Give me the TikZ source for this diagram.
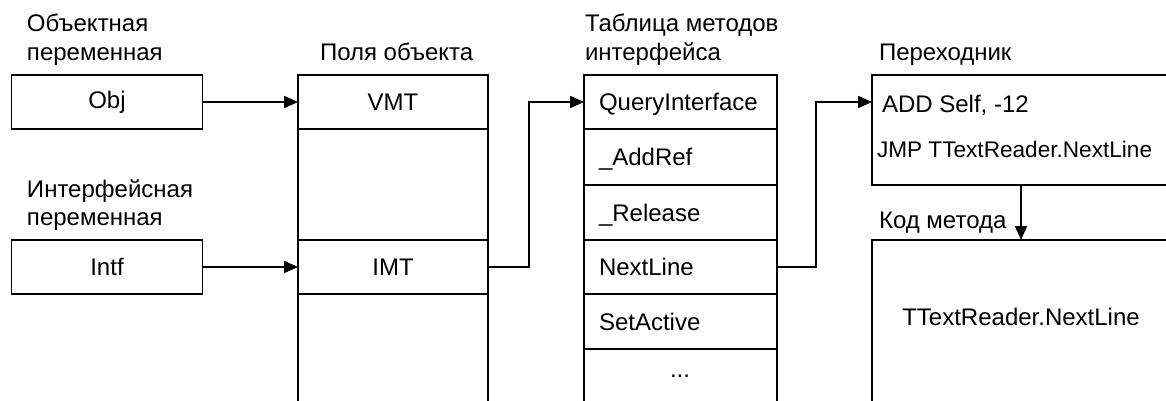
\documentclass[tikz,border=0pt]{standalone}
\usepackage{fontspec}
\setmainfont{Liberation Sans}
\usetikzlibrary{arrows.meta}
\begin{document}
\begin{tikzpicture}[x=1pt,y=-1pt,
  cell/.style={draw=black,line width=1.9pt,rectangle,inner sep=0pt,outer sep=0pt},
  txt/.style={inner sep=0pt,outer sep=0pt,font=\fontsize{24}{28}\selectfont,text=black},
  lbl/.style={txt,anchor=base west},
  arr/.style={line width=1.9pt,-{Triangle[length=14pt,width=12pt]}}]
\useasboundingbox (0,0) rectangle (1166,401);
\clip (0,0) rectangle (1166,401);
\fill[white] (0,0) rectangle (1166,401);
% labels
\node[lbl] (l1a) at (27,32) {Объектная};
\node[lbl] (l1b) at (27,61) {переменная};
\node[lbl] (l2a) at (27,197) {Интерфейсная};
\node[lbl] (l2b) at (27,225) {переменная};
\node[lbl] (l3) at (320,61) {Поля объекта};
\node[lbl] (l4a) at (585,32) {Таблица методов};
\node[lbl] (l4b) at (585,61) {интерфейса};
\node[lbl] (l5) at (879,61) {Переходник};
\node[lbl] (l6) at (879,228) {Код метода};
% variable boxes
\node[cell,minimum width=191pt,minimum height=54pt] (obj) at (107,102) {};
\node[txt] (objt) at (obj) {Obj};
\node[cell,minimum width=191pt,minimum height=54pt] (intf) at (107,267) {};
\node[txt] (intft) at (intf) {Intf};
% object fields
\node[cell,minimum width=190pt,minimum height=54pt] (vmt) at (393,102) {};
\node[txt] (vmtt) at (vmt) {VMT};
\node[cell,minimum width=190pt,minimum height=111pt] (fgap) at (393,184.5) {};
\node[cell,minimum width=190pt,minimum height=54pt] (imt) at (393,267) {};
\node[txt] (imtt) at (imt) {IMT};
\node[cell,minimum width=190pt,minimum height=140pt] (frest) at (393,364) {};
% interface method table
\node[cell,minimum width=193pt,minimum height=54pt] (qi) at (680.5,102) {};
\node[cell,minimum width=193pt,minimum height=56pt] (ar) at (680.5,157) {};
\node[cell,minimum width=193pt,minimum height=55pt] (rel) at (680.5,212.5) {};
\node[cell,minimum width=193pt,minimum height=54pt] (nl) at (680.5,267) {};
\node[cell,minimum width=193pt,minimum height=55pt] (sa) at (680.5,321.5) {};
\node[cell,minimum width=193pt,minimum height=80pt] (more) at (680.5,389) {};
\node[lbl] (qit) at (599,110.5) {QueryInterface};
\node[lbl] (art) at (599,165.5) {\_AddRef};
\node[lbl] (relt) at (599,221) {\_Release};
\node[lbl] (nlt) at (599,275.5) {NextLine};
\node[lbl] (sat) at (599,330) {SetActive};
\node[txt,anchor=base] (moret) at (680,377) {...};
% thunk and method code
\node[cell,minimum width=400pt,minimum height=110pt] (thunk) at (1072,130) {};
\node[lbl] (addt) at (882,113) {ADD Self, -12};
\node[lbl,font=\fontsize{22.6}{27}\selectfont] (jmpt) at (877,157) {JMP TTextReader.NextLine};
\node[cell,minimum width=400pt,minimum height=200pt] (code) at (1072,340) {};
\node[txt,anchor=base] (ttr) at (1021,325) {TTextReader.NextLine};
\coordinate (thin) at (thunk.west |- qi);
% connectors
\draw[arr] (obj.east) -- (vmt.west);
\draw[arr] (intf.east) -- (imt.west);
\draw[arr] (imt.east) -- ++(41,0) |- (qi.west);
\draw[arr] (nl.east) -- ++(39,0) |- (thin);
\draw[arr] (thunk.south -| ttr) -- (code.north -| ttr);
\end{tikzpicture}
\end{document}
